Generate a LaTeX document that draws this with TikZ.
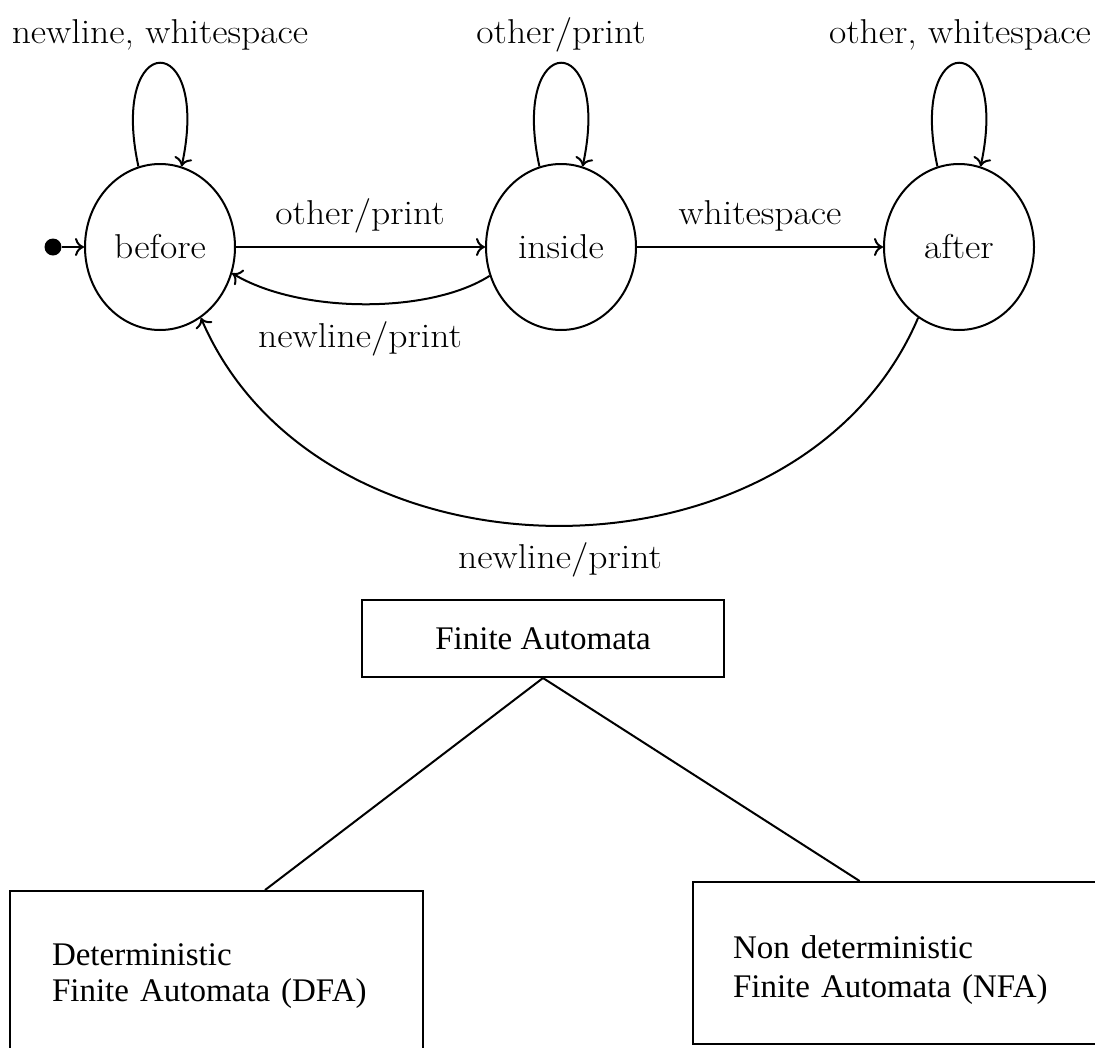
\documentclass[tikz,border=0pt]{standalone}
\usepackage{fontspec}
\setmainfont{Latin Modern Roman}[FakeStretch=1.09]
\newfontfamily\boxfont{Liberation Serif}
\usetikzlibrary{arrows.meta,shapes.geometric,calc}
\tikzset{
  state/.style={ellipse, draw, line width=2pt, minimum width=150pt, minimum height=166pt, inner sep=0pt,
    font=\fontsize{34.5}{40}\selectfont},
  edge/.style={line width=2pt, -{To[length=9pt,width=18pt,line width=2pt]}},
  lbl/.style={anchor=base, inner sep=0pt, font=\fontsize{34.5}{40}\selectfont},
  fabox/.style={rectangle, draw, line width=2pt, inner sep=0pt, font=\boxfont\fontsize{33}{37}\selectfont},
  link/.style={line width=2pt}
}
\begin{document}
\begin{tikzpicture}[x=1pt, y=-1pt]
\useasboundingbox (0,0) rectangle (1095,1047);
\clip (0,0) rectangle (1095,1047);

% states of the word-printing automaton
\node[state] (before) at (160,247) {before};
\node[state] (inside) at (561,247) {inside};
\node[state] (after)  at (959,247) {after};

% start marker
\node[circle, fill, inner sep=0pt, minimum size=17pt] (start) at (53,247) {};
\draw[edge] (start) -- (before);

% self loops
\draw[edge] (before.105) .. controls +(-30,-138) and +(30,-138) .. (before.75);
\draw[edge] (inside.105) .. controls +(-30,-138) and +(30,-138) .. (inside.75);
\draw[edge] (after.105)  .. controls +(-30,-138) and +(30,-138) .. (after.75);
\node[lbl] (lb) at (160,43) {newline, whitespace};
\node[lbl] (li) at (561,43) {other/print};
\node[lbl] (la) at (960,43) {other, whitespace};

% transitions between states
\draw[edge] (before) -- (inside);
\node[lbl] (lbi) at (360,224) {other/print};
\draw[edge] (inside) -- (after);
\node[lbl] (lia) at (760,224) {whitespace};
\draw[edge] (inside.-158) .. controls (430,314) and (300,314) .. (before.-20);
\node[lbl] (lib) at (360,347) {newline/print};
\draw[edge] (after.-120) .. controls (800,595) and (320,595) .. (before.-60);
\node[lbl] (lab) at (560,568) {newline/print};

% classification of finite automata
\node[fabox, minimum width=362pt, minimum height=77pt] (fa) at (543,638.5) {Finite Automata};
\node[fabox, minimum height=170pt, inner xsep=42pt, text width=329pt, align=left] (dfa) at (216.5,976)
  {Deterministic\\[-1pt]Finite Automata (DFA)};
\node[fabox, minimum height=162pt, inner xsep=40pt, text width=337pt, align=left] (nfa) at (901.5,963)
  {\rule{0pt}{36pt}Non deterministic\\[2pt]Finite Automata (NFA)};
\draw[link] (fa.south) -- ($(dfa.north west)!0.617!(dfa.north east)$);
\draw[link] (fa.south) -- ($(nfa.north west)!0.40!(nfa.north east)$);
\end{tikzpicture}
\end{document}
